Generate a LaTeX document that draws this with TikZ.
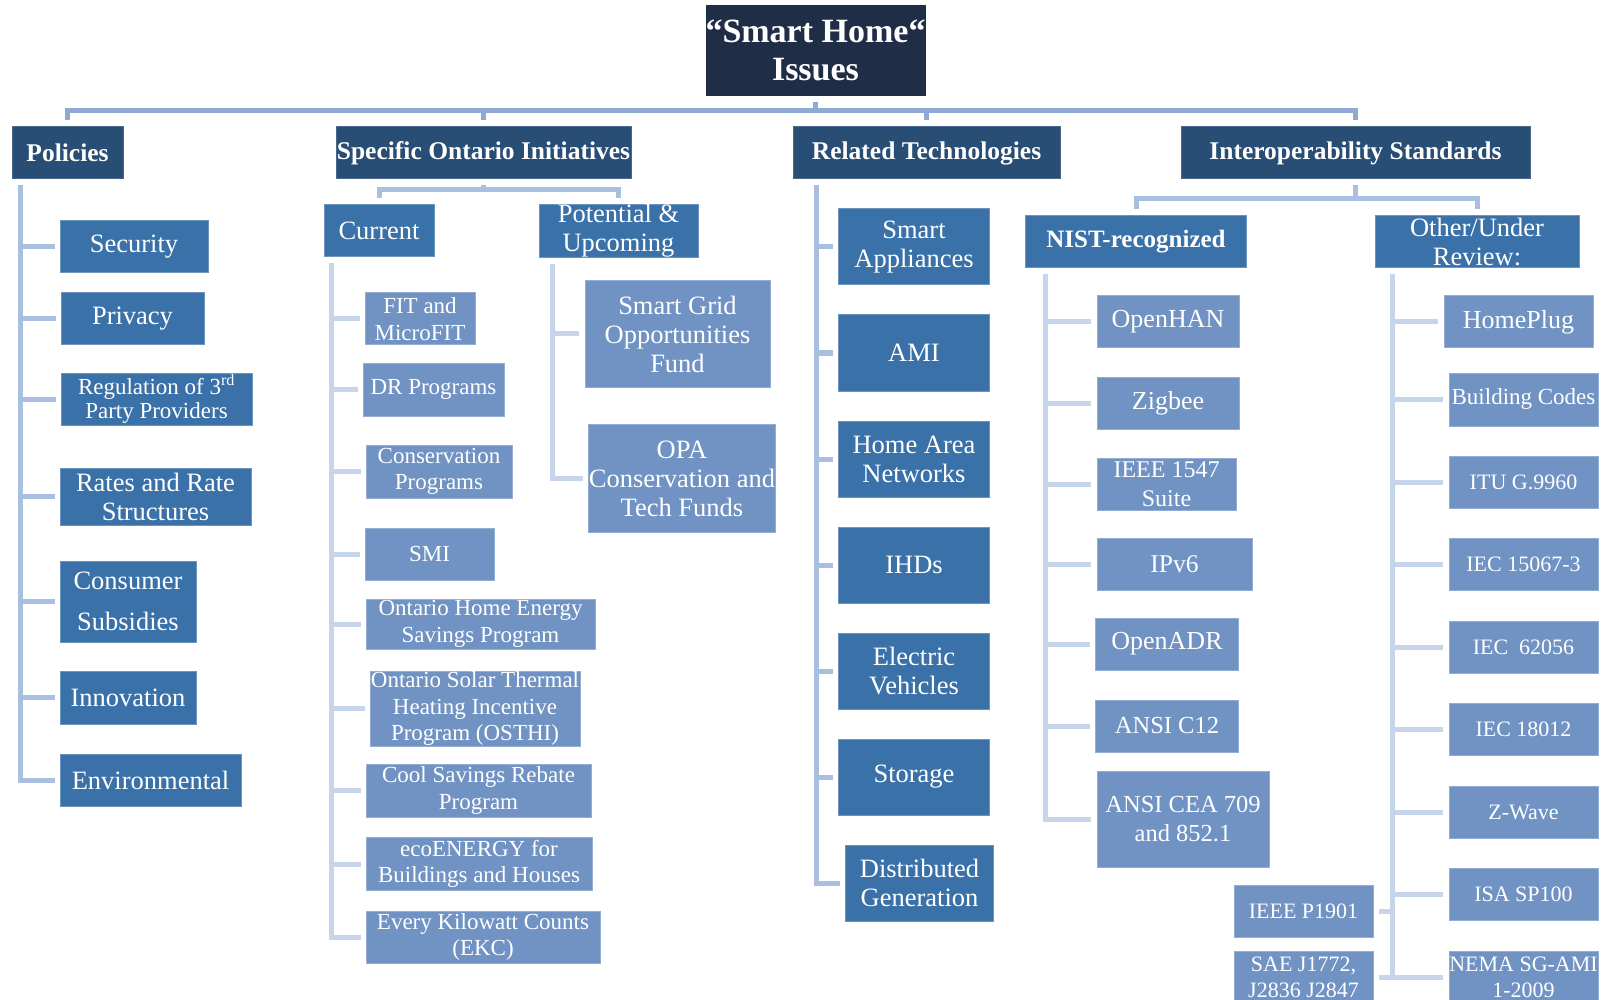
\documentclass[tikz,border=0pt]{standalone}
\usepackage{fontspec}
\setmainfont{Liberation Serif}
\definecolor{navy}{HTML}{1F2D46}
\definecolor{deepblue}{HTML}{284E75}
\definecolor{midblue}{HTML}{3971A8}
\definecolor{liteblue}{HTML}{7093C4}
\definecolor{busblue}{HTML}{8EA9D4}
\definecolor{stemblue}{HTML}{A9BFDF}
\definecolor{twigblue}{HTML}{C6D5EA}
\newcommand{\setfs}[2]{\fontsize{#1}{#2}\selectfont}

\begin{document}
\begin{tikzpicture}[x=1pt,y=-1pt,
    wh/.style 2 args={minimum width=#1,minimum height=#2},
    busline/.style={draw=busblue,line width=5pt},
    stem/.style={draw=stemblue,line width=5pt},
    twig/.style={draw=twigblue,line width=5pt}]

  \useasboundingbox (0,0) rectangle (1604,1000);

  \node[fill=navy, text=white, inner sep=0pt, align=center,
        font=\bfseries\setfs{34}{38}, wh={215}{91}] (title) at (815.5,50.5) {“Smart Home“\\Issues};

  \begin{scope}[every node/.style={fill=deepblue, draw=deepblue!85!white, line width=1pt,
      text=white, inner sep=0pt, font=\bfseries\setfs{25.5}{29}}]
    \node[wh={111}{52}] (pol) at (67.5,153)   {Policies};
    \node[wh={295}{52}] (soi) at (483.5,153)  {Specific Ontario Initiatives};
    \node[wh={267}{52}] (rt)  at (926.5,153)  {Related Technologies};
    \node[wh={349}{52}] (is)  at (1355.5,153) {Interoperability Standards};
  \end{scope}

  \begin{scope}[every node/.style={fill=midblue, draw=midblue!75!white, line width=1pt,
      text=white, inner sep=0pt, align=center, font=\setfs{26.5}{29}}]
    \node[wh={148}{52}] (sec)  at (134,247)   {Security};
    \node[wh={143}{52}] (priv) at (132.5,319) {Privacy};
    \node[wh={191}{52}, font=\setfs{23}{24.5}] (reg) at (156.5,399) {Regulation of 3\textsuperscript{rd}\\Party Providers};
    \node[wh={191}{57}] (rate) at (155.5,496.5) {Rates and Rate\\Structures};
    \node[wh={136}{81}, font=\setfs{26.5}{41}] (cons) at (128,601.5) {Consumer\\Subsidies};
    \node[wh={136}{53}] (inno) at (128,697.5) {Innovation};
    \node[wh={181}{52}] (env)  at (150.5,780) {Environmental};

    \node[wh={110}{52}] (cur) at (379,231)   {Current};
    \node[wh={159}{52}] (pot) at (618.5,231) {Potential \&\\Upcoming};

    \node[wh={151}{76}] (sa)  at (914,247)   {Smart\\Appliances};
    \node[wh={151}{76}] (ami) at (914,353)   {AMI};
    \node[wh={151}{76}] (han) at (914,459)   {Home Area\\Networks};
    \node[wh={151}{76}] (ihd) at (914,565)   {IHDs};
    \node[wh={151}{76}] (ev)  at (914,671)   {Electric\\Vehicles};
    \node[wh={151}{76}] (sto) at (914,777)   {Storage};
    \node[wh={148}{76}] (dg)  at (919.5,883) {Distributed\\Generation};

    \node[wh={221}{52}, font=\bfseries\setfs{25}{29}] (nist) at (1136,242) {NIST-recognized};
    \node[wh={204}{52}] (oth) at (1477,242) {Other/Under\\Review:};
  \end{scope}

  \begin{scope}[every node/.style={fill=liteblue, draw=liteblue!75!white, line width=1pt,
      text=white, inner sep=0pt, align=center, font=\setfs{23}{26.5}}]
    \node[wh={110}{52}] (fit)   at (420,319)   {FIT and\\MicroFIT};
    \node[wh={141}{53}] (dr)    at (433.5,389.5) {DR Programs};
    \node[wh={146}{53}] (cp)    at (439,471.5) {Conservation\\Programs};
    \node[wh={129}{52}] (smi)   at (429.5,554) {SMI};
    \node[wh={229}{50}] (ohes)  at (480.5,624) {Ontario Home Energy\\Savings Program};
    \node[wh={210}{75}] (osthi) at (475,708.5) {Ontario Solar Thermal\\Heating Incentive\\Program (OSTHI)};
    \node[wh={225}{53}] (csr)   at (478.5,790.5) {Cool Savings Rebate\\Program};
    \node[wh={226}{53}] (eco)   at (479,864)   {ecoENERGY for\\Buildings and Houses};
    \node[wh={234}{52}] (ekc)   at (483,937)   {Every Kilowatt Counts\\(EKC)};

    \node[wh={185}{106}, font=\setfs{26.5}{29}] (sgof) at (677.5,334) {Smart Grid\\Opportunities\\Fund};
    \node[wh={186}{108}, font=\setfs{26.5}{29}] (opa)  at (682,478.5) {OPA\\Conservation and\\Tech Funds};

    \node[wh={142}{52}, font=\setfs{26}{29}]   (ohan) at (1168,322)   {OpenHAN};
    \node[wh={142}{52}, font=\setfs{26}{29}]   (zig)  at (1168,403)   {Zigbee};
    \node[wh={139}{52}, font=\setfs{24}{29}]   (ieee) at (1166.5,484) {IEEE 1547\\Suite};
    \node[wh={155}{52}, font=\setfs{25.5}{29}] (ipv)  at (1174.5,564) {IPv6};
    \node[wh={143}{52}, font=\setfs{26}{29}]   (oadr) at (1167,644)   {OpenADR};
    \node[wh={143}{52}, font=\setfs{24.5}{29}] (c12)  at (1167,726)   {ANSI C12};
    \node[wh={172}{96}, font=\setfs{24.5}{29}] (cea)  at (1183,819)   {ANSI CEA 709\\and 852.1};

    \node[wh={149}{52}, font=\setfs{26}{29}] (hp) at (1518.5,322) {HomePlug};
    \node[wh={149}{53}] (bc)   at (1523.5,399.5) {Building Codes};
    \node[wh={149}{52}, font=\setfs{22}{26}] (itu)  at (1523.5,482)   {ITU G.9960};
    \node[wh={149}{52}, font=\setfs{22}{26}] (iecb) at (1523.5,564.7) {IEC 15067-3};
    \node[wh={149}{52}, font=\setfs{22}{26}] (iecc) at (1523.5,647)   {IEC\ \ 62056};
    \node[wh={149}{52}, font=\setfs{22}{26}] (iecd) at (1523.5,729.5) {IEC 18012};
    \node[wh={149}{52}, font=\setfs{22}{26}] (zw)   at (1523.5,812)   {Z-Wave};
    \node[wh={149}{52}, font=\setfs{22}{26}] (isa)  at (1523.5,894.5) {ISA SP100};
    \node[wh={149}{52}, font=\setfs{22}{26}] (nema) at (1523.5,977)   {NEMA SG-AMI\\1-2009};
    \node[wh={139}{52}, font=\setfs{22}{26}] (pnin) at (1303.5,911.7) {IEEE P1901};
    \node[wh={139}{52}, font=\setfs{22}{26}] (sae)  at (1303.5,977)   {SAE J1772,\\J2836 J2847};
  \end{scope}

  \coordinate (topy) at (0,110.5);
  \coordinate (soiy) at (0,190);
  \coordinate (isy)  at (0,199);
  \coordinate (poltop) at ([xshift=8.5pt,yshift=-6pt]pol.south west);
  \coordinate (curtop) at ([xshift=8pt,yshift=-6pt]cur.south west);
  \coordinate (pottop) at ([xshift=13.5pt,yshift=-6pt]pot.south west);
  \coordinate (rttop)  at ([xshift=24pt,yshift=-6pt]rt.south west);
  \coordinate (nisttop) at ([xshift=20.5pt,yshift=-6pt]nist.south west);
  \coordinate (othtop) at ([xshift=18pt,yshift=-6pt]oth.south west);

  \foreach \c in {pol,soi,rt,is}
    \draw[busline] ([yshift=-6pt]title.south) -- (title.south |- topy) -| ([yshift=6pt]\c.north);
  \foreach \c in {cur,pot}
    \draw[stem] ([yshift=-6pt]soi.south) -- (soi.south |- soiy) -| ([yshift=6pt]\c.north);
  \foreach \c in {nist,oth}
    \draw[stem] ([yshift=-6pt]is.south) -- (is.south |- isy) -| ([yshift=6pt]\c.north);

  \foreach \c in {sec,priv,reg,rate,cons,inno,env}
    \draw[stem] (poltop) |- ([xshift=-5pt]\c.west);
  \foreach \c in {sa,ami,han,ihd,ev,sto,dg}
    \draw[stem] (rttop) |- ([xshift=-5pt]\c.west);
  \foreach \c in {fit,dr,cp,smi,ohes,osthi,csr,eco,ekc}
    \draw[twig] (curtop) |- ([xshift=-5pt]\c.west);
  \foreach \c in {sgof,opa}
    \draw[twig] (pottop) |- ([xshift=-5.5pt]\c.west);
  \foreach \c in {ohan,zig,ieee,ipv,oadr,c12,cea}
    \draw[twig] (nisttop) |- ([xshift=-5.5pt]\c.west);
  \foreach \c in {hp,bc,itu,iecb,iecc,iecd,zw,isa,nema}
    \draw[twig] (othtop) |- ([xshift=-5.5pt]\c.west);
  \foreach \c in {pnin,sae}
    \draw[twig] (othtop) |- ([xshift=5.5pt]\c.east);

\end{tikzpicture}
\end{document}
